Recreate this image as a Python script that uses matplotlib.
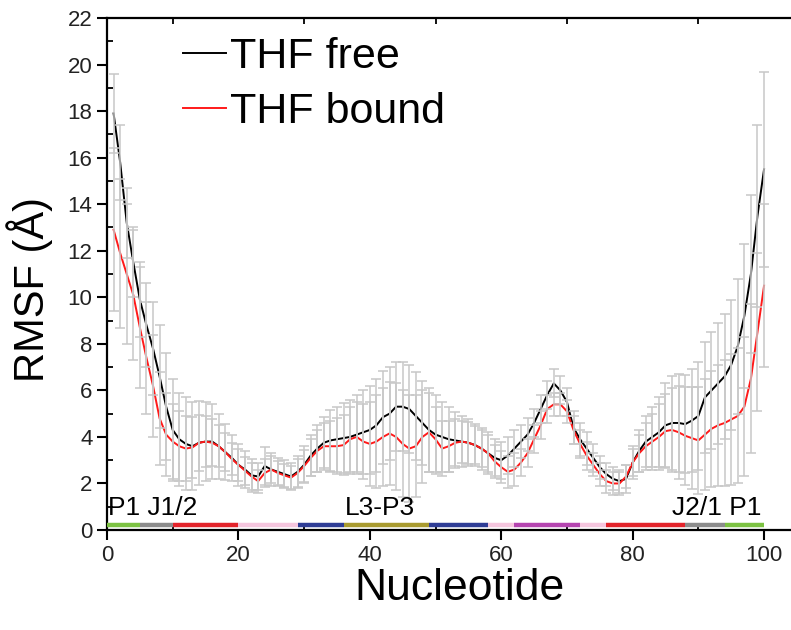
import numpy as np
import matplotlib
matplotlib.use('Agg')
import matplotlib.pyplot as plt
from matplotlib.ticker import MultipleLocator

plt.rcParams['font.family'] = ['Liberation Sans', 'DejaVu Sans']

# nucleotide index
nucleotide = np.arange(1, 101)

# RMSF values (Angstrom)
rmsf_free = [
    17.9, 15.8, 13.2, 11.5, 9.9, 8.8, 7.8, 6.6, 5.3, 4.3,
    3.9, 3.7, 3.6, 3.75, 3.8, 3.8, 3.6, 3.35, 3.1, 2.8,
    2.6, 2.35, 2.3, 2.75, 2.6, 2.5, 2.4, 2.3, 2.5, 2.8,
    3.2, 3.5, 3.75, 3.85, 3.9, 3.95, 4.0, 4.1, 4.2, 4.3,
    4.5, 4.85, 5.0, 5.3, 5.3, 5.2, 4.9, 4.6, 4.3, 4.1,
    4.0, 3.9, 3.85, 3.8, 3.75, 3.65, 3.5, 3.3, 3.1, 3.0,
    3.2, 3.5, 3.8, 4.1, 4.6, 5.2, 5.8, 6.3, 6.0, 5.5,
    4.4, 3.9, 3.5, 3.1, 2.7, 2.4, 2.2, 2.1, 2.2, 2.9,
    3.4, 3.8, 4.0, 4.2, 4.5, 4.6, 4.6, 4.55, 4.7, 4.9,
    5.7, 6.0, 6.3, 6.6, 7.1, 7.9, 9.2, 11.0, 13.5, 15.5,
]
rmsf_bound = [
    12.9, 11.9, 11.0, 10.1, 8.7, 7.4, 6.2, 4.8, 4.1, 3.8,
    3.6, 3.5, 3.55, 3.75, 3.8, 3.75, 3.6, 3.35, 3.05, 2.8,
    2.55, 2.3, 2.1, 2.45, 2.6, 2.45, 2.35, 2.25, 2.45, 2.75,
    3.1, 3.4, 3.6, 3.6, 3.6, 3.65, 3.9, 4.0, 3.8, 3.7,
    3.8, 4.0, 4.15, 4.0, 3.7, 3.5, 3.6, 4.0, 4.2, 3.9,
    3.5, 3.6, 3.75, 3.8, 3.75, 3.65, 3.5, 3.3, 2.95, 2.7,
    2.5, 2.6, 2.9, 3.3, 3.9, 4.5, 5.2, 5.4, 5.4, 5.1,
    4.3, 3.7, 3.2, 2.8, 2.4, 2.1, 2.0, 2.0, 2.3, 2.9,
    3.3, 3.6, 3.8, 4.0, 4.25, 4.3, 4.2, 4.05, 3.95, 3.85,
    4.1, 4.35, 4.5, 4.6, 4.75, 4.9, 5.3, 6.5, 8.5, 10.5,
]
err_free = [
    1.7, 1.6, 1.5, 1.5, 1.6, 1.8, 2.0, 2.2, 2.3, 2.2,
    2.0, 2.0, 1.9, 1.8, 1.7, 1.6, 1.4, 1.2, 1.0, 0.9,
    0.8, 0.7, 0.6, 0.8, 0.7, 0.6, 0.6, 0.6, 0.7, 0.8,
    0.9, 1.0, 1.1, 1.3, 1.4, 1.5, 1.6, 1.7, 1.8, 1.9,
    2.0, 2.0, 2.0, 1.9, 1.9, 1.9, 1.9, 1.8, 1.8, 1.7,
    1.5, 1.4, 1.2, 1.1, 1.0, 0.9, 0.9, 0.9, 0.8, 0.8,
    0.8, 0.8, 0.7, 0.7, 0.6, 0.6, 0.6, 0.6, 0.6, 0.6,
    0.7, 0.7, 0.7, 0.6, 0.5, 0.5, 0.5, 0.5, 0.6, 0.7,
    0.9, 1.1, 1.3, 1.5, 1.8, 2.0, 2.1, 2.1, 2.2, 2.3,
    2.4, 2.5, 2.6, 2.7, 2.8, 2.9, 3.1, 3.4, 3.9, 4.2,
]
err_bound = [
    3.5, 3.2, 3.0, 2.8, 2.6, 2.4, 2.2, 2.0, 1.8, 1.6,
    1.5, 1.4, 1.3, 1.2, 1.1, 1.0, 0.9, 0.8, 0.7, 0.7,
    0.6, 0.6, 0.5, 0.6, 0.6, 0.5, 0.5, 0.5, 0.6, 0.7,
    0.8, 0.9, 1.0, 1.1, 1.2, 1.3, 1.4, 1.5, 1.6, 1.8,
    2.0, 2.1, 2.2, 2.3, 2.3, 2.3, 2.2, 2.0, 1.7, 1.4,
    1.2, 1.1, 1.0, 0.9, 0.9, 0.8, 0.8, 0.8, 0.7, 0.7,
    0.7, 0.7, 0.6, 0.6, 0.6, 0.6, 0.6, 0.5, 0.5, 0.5,
    0.6, 0.6, 0.6, 0.5, 0.5, 0.5, 0.5, 0.5, 0.5, 0.6,
    0.8, 1.0, 1.2, 1.4, 1.6, 1.8, 2.0, 2.1, 2.2, 2.3,
    2.4, 2.5, 2.6, 2.7, 2.8, 2.9, 3.0, 3.2, 3.4, 3.5,
]

# secondary-structure segments drawn along the x axis
seg_start = [0, 5, 10, 20, 29, 36, 49, 58, 62, 72, 76, 88, 94]
seg_end = [5, 10, 20, 29, 36, 49, 58, 62, 72, 76, 88, 94, 100]
seg_colors = ['#7cc242', '#8c8c8c', '#e3242b', '#f5c6de', '#2f3d96', '#a99b30',
              '#2f3d96', '#f5c6de', '#b545b0', '#f5c6de', '#e3242b', '#8c8c8c', '#7cc242']
region_labels = ['P1 J1/2', 'L3-P3', 'J2/1 P1']

fig = plt.figure(figsize=(7.91, 6.30), dpi=100)
ax = fig.add_axes([0.1353, 0.1587, 0.868, 0.8127])

ax.plot(nucleotide, rmsf_free, color='black', lw=1.4, label='THF free', zorder=2)
ax.plot(nucleotide, rmsf_bound, color='#ff1a1a', lw=1.4, label='THF bound', zorder=2)
ax.errorbar(nucleotide, rmsf_free, yerr=err_free, fmt='none', ecolor='#c8c8c8',
            elinewidth=1.1, capsize=3.5, capthick=1.1, zorder=3)
ax.errorbar(nucleotide, rmsf_bound, yerr=err_bound, fmt='none', ecolor='#c8c8c8',
            elinewidth=1.1, capsize=3.5, capthick=1.1, zorder=3)

ax.hlines([0.2] * len(seg_start), seg_start, seg_end, colors=seg_colors, lw=3.2, zorder=4)

ax.text(seg_start[0] + 0.2, 0.45, region_labels[0], fontsize=19, ha='left', va='bottom')
ax.text((seg_start[5] + seg_end[5]) / 2 - 1, 0.45, region_labels[1], fontsize=19,
        ha='center', va='bottom')
ax.text(seg_end[-1] - 0.4, 0.45, region_labels[2], fontsize=19, ha='right', va='bottom')

ax.set_xlim(0, 104.5)
ax.set_ylim(0, 22)
ax.xaxis.set_major_locator(MultipleLocator(20))
ax.xaxis.set_minor_locator(MultipleLocator(10))
ax.yaxis.set_major_locator(MultipleLocator(2))
ax.yaxis.set_minor_locator(MultipleLocator(1))
ax.tick_params(which='major', direction='out', length=7, width=1.5, labelsize=16,
               labelcolor='#222222', top=False, right=False)
ax.tick_params(which='minor', direction='in', length=4, width=1.3, top=True, right=False)
ax.tick_params(axis='x', which='major', top=False)
for side in ['left', 'bottom', 'top']:
    ax.spines[side].set_linewidth(1.6)
ax.spines['right'].set_visible(False)

ax.set_xlabel('Nucleotide', fontsize=32)
ax.xaxis.set_label_coords(0.514, -0.075)
ax.set_ylabel('RMSF (Å)', fontsize=30)
ax.yaxis.set_label_coords(-0.079, 0.47)

ax.legend(loc='upper left', bbox_to_anchor=(0.111, 0.963), frameon=False, fontsize=31,
          handlelength=1.0, handletextpad=0.08, borderpad=0, borderaxespad=0,
          labelspacing=0.35)

fig.savefig('out.png', dpi=100)
